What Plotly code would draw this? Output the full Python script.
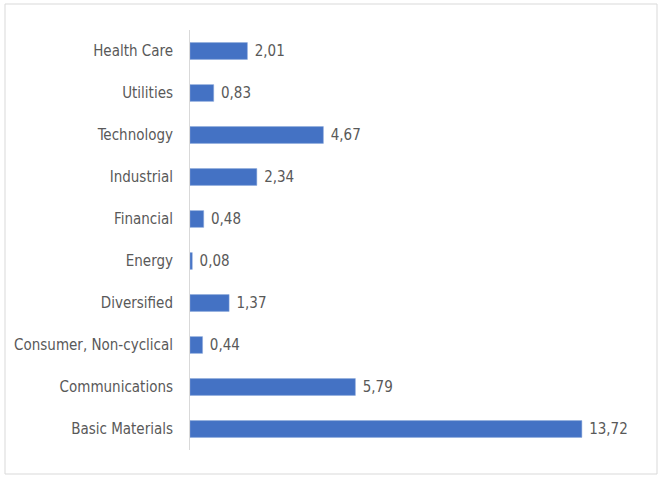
import plotly.graph_objects as go

# Sector weights (%), listed bottom to top as they appear on the axis
sectors = [
    "Basic Materials",
    "Communications",
    "Consumer, Non-cyclical",
    "Diversified",
    "Energy",
    "Financial",
    "Industrial",
    "Technology",
    "Utilities",
    "Health Care",
]
weights = [13.72, 5.79, 0.44, 1.37, 0.08, 0.48, 2.34, 4.67, 0.83, 2.01]

FONT = "DejaVu Sans Condensed, Liberation Sans Narrow, sans-serif"
TEXT_GREY = "#595959"

fig = go.Figure(
    go.Bar(
        x=weights,
        y=sectors,
        orientation="h",
        marker=dict(color="#4472C4", line=dict(color="#8faadc", width=0.5)),
        texttemplate=" %{x:.2f}",
        textposition="outside",
        constraintext="none",
        cliponaxis=False,
        textfont=dict(family=FONT, size=15, color=TEXT_GREY),
        hoverinfo="skip",
    )
)

L, R, T, B = 190, 11, 30, 27
W, H = 658, 477
pw, ph = W - L - R, H - T - B

fig.update_layout(
    width=W,
    height=H,
    margin=dict(l=L, r=R, t=T, b=B),
    paper_bgcolor="white",
    plot_bgcolor="white",
    separators=",.",
    bargap=0.6,
    showlegend=False,
    font=dict(family=FONT, size=15, color=TEXT_GREY),
    xaxis=dict(
        range=[0, 16],
        showgrid=False,
        showticklabels=False,
        zeroline=False,
        showline=False,
        automargin=False,
        fixedrange=True,
    ),
    yaxis=dict(
        showgrid=False,
        showline=True,
        linecolor="#d9d9d9",
        linewidth=1,
        ticks="",
        ticklabelstandoff=13,
        automargin=False,
        tickfont=dict(family=FONT, size=15, color=TEXT_GREY),
        fixedrange=True,
    ),
    shapes=[
        dict(
            type="rect",
            xref="paper",
            yref="paper",
            x0=(5 - L) / pw,
            x1=(657 - L) / pw,
            y0=-(474 - (T + ph)) / ph,
            y1=1 + (T - 4) / ph,
            line=dict(color="#d9d9d9", width=1),
            layer="below",
        )
    ],
)

fig.write_html("out.html")
